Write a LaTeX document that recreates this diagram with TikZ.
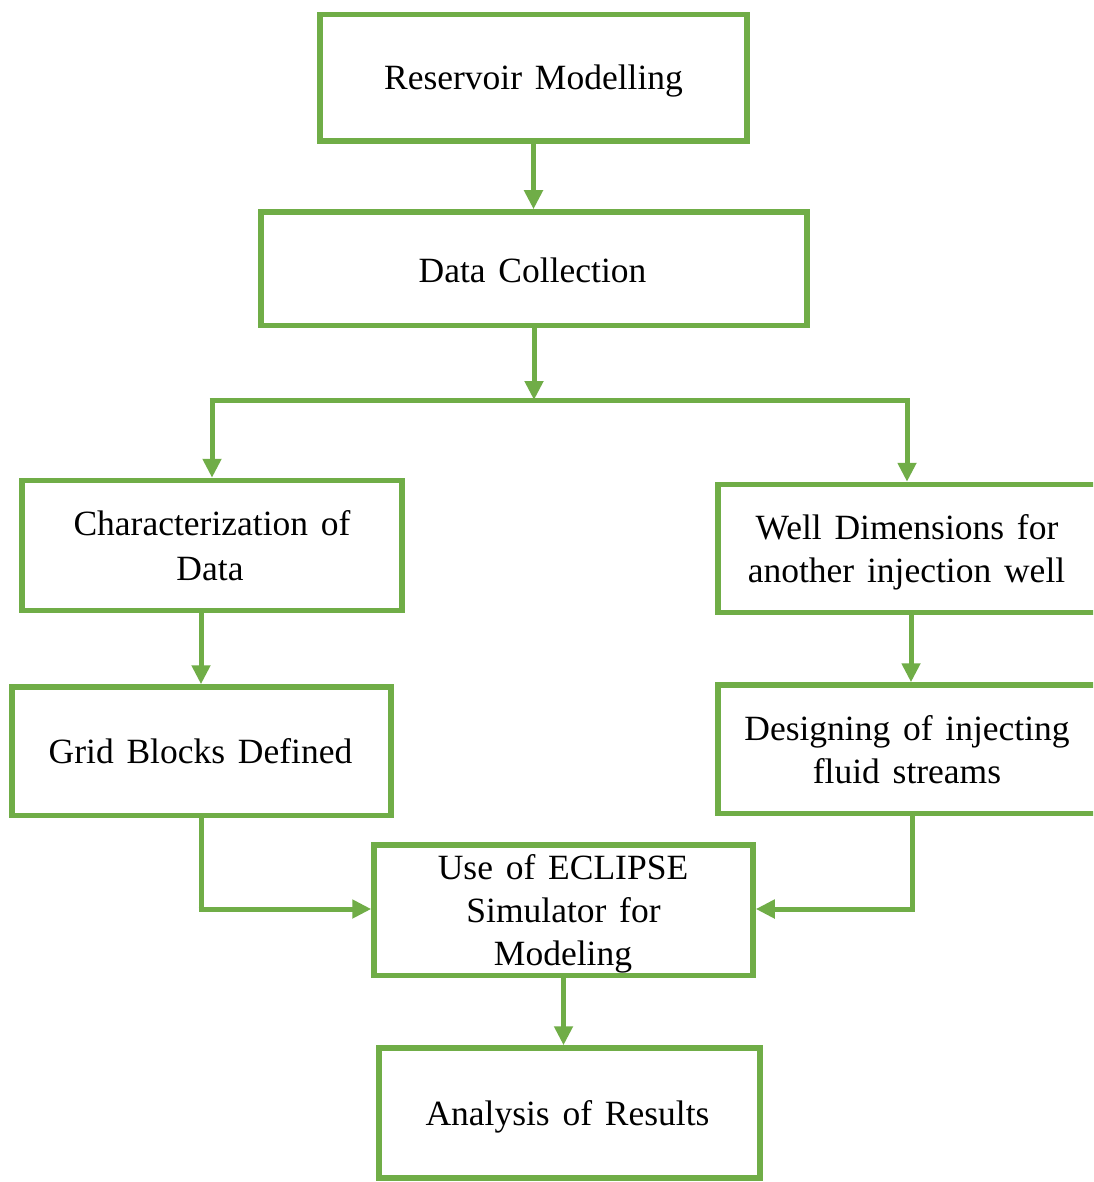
\documentclass[tikz,border=0pt]{standalone}
\usepackage{fontspec}
\setmainfont{Liberation Serif}
\usetikzlibrary{arrows.meta}
\definecolor{fgreen}{HTML}{70AD47}
\newcommand{\boxfont}{\fontsize{35.5}{44}\selectfont}
\newcommand{\widespace}{\spaceskip=0.36em plus 0.1em\relax}
\begin{document}
\begin{tikzpicture}[x=1pt,y=-1pt,
  box/.style={draw=fgreen, line width=5.5pt, rectangle, inner sep=0pt, fill=none},
  txt/.style={anchor=base, inner sep=0pt, font=\boxfont, execute at begin node=\widespace},
  conn/.style={draw=fgreen, line width=5pt},
  arr/.style={conn, -{Triangle[length=19pt,width=18pt]}, shorten >=0pt}]
\useasboundingbox (0,0) rectangle (1093,1182);
\clip (0,0) rectangle (1093,1182);
\fill[white] (0,0) rectangle (1093,1182);
% boxes
\node[box, minimum width=427pt, minimum height=126.5pt] (b1) at (533.5,77.75) {};
\node[box, minimum width=546pt, minimum height=113.5pt] (b2) at (534,268.75) {};
\node[box, minimum width=380pt, minimum height=130pt] (b3) at (212,545.5) {};
\node[box, minimum width=400pt, minimum height=128pt] (b4) at (918,548.5) {};
\node[box, minimum width=379pt, minimum height=128.5pt] (b5) at (201.5,751.25) {};
\node[box, minimum width=400pt, minimum height=128.5pt] (b6) at (918,749.25) {};
\node[box, minimum width=379pt, minimum height=130.5pt] (b7) at (563.5,910.25) {};
\node[box, minimum width=381pt, minimum height=130pt] (b8) at (569.5,1113) {};
% texts
\node[txt] (t1) at (533.5,90) {Reservoir\ Modelling};
\node[txt] (t2) at (532.5,282) {Data Collection};
\node[txt] (t3a) at (212,535) {Characterization of};
\node[txt] (t3b) at (210,580) {Data};
\node[txt] (t4a) at (907,539) {Well Dimensions for};
\node[txt] (t4b) at (906.5,582) {another injection well};
\node[txt] (t5) at (200.5,763) {Grid Blocks Defined};
\node[txt] (t6a) at (907,740) {Designing of injecting};
\node[txt] (t6b) at (907,783) {fluid streams};
\node[txt] (t7a) at (563,879) {Use of ECLIPSE};
\node[txt] (t7b) at (563.5,922) {Simulator\ for};
\node[txt] (t7c) at (563,965) {Modeling};
\node[txt] (t8) at (567.5,1125) {Analysis\ of Results};
% helper coordinates
\coordinate (split) at (534,400);
\coordinate (cL) at (212,400);
\coordinate (cR) at (907,400);
\coordinate (xg) at (201,0);
\coordinate (xw) at (911,0);
\coordinate (xd) at (912,0);
\coordinate (xm) at (563.5,0);
\coordinate (yj) at (0,909);
% connectors
\draw[arr] (b1.south) -- (b2.north -| b1.south);
\draw[arr] (b2.south) -- (split);
\draw[conn] ([xshift=-2.5pt]cL) -- ([xshift=2.5pt]cR);
\draw[arr] (cL) -- (b3.north -| cL);
\draw[arr] (cR) -- (b4.north -| cR);
\draw[arr] (b3.south -| xg) -- (b5.north -| xg);
\draw[arr] (b4.south -| xw) -- (b6.north -| xw);
\draw[conn] (b5.south -| xg) -- (xg |- yj);
\draw[arr] ([xshift=-2.5pt]xg |- yj) -- (b7.west |- yj);
\draw[conn] (b6.south -| xd) -- (xd |- yj);
\draw[arr] ([xshift=2.5pt]xd |- yj) -- (b7.east |- yj);
\draw[arr] (b7.south -| xm) -- (b8.north -| xm);
\end{tikzpicture}
\end{document}
